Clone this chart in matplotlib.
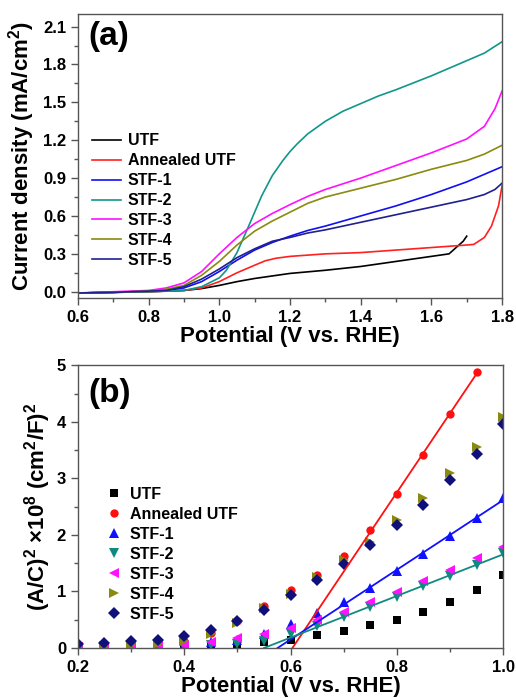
import numpy as np
import matplotlib
matplotlib.use("Agg")
import matplotlib.pyplot as plt
from matplotlib.ticker import MultipleLocator

# fonts semblants a Arial negreta
plt.rcParams['font.family'] = ['Liberation Sans', 'DejaVu Sans']
plt.rcParams['font.weight'] = 'bold'
plt.rcParams['mathtext.fontset'] = 'custom'
plt.rcParams['mathtext.rm'] = 'Liberation Sans:bold'
plt.rcParams['mathtext.bf'] = 'Liberation Sans:bold'
plt.rcParams['mathtext.default'] = 'rm'

# --- (a) LSV ---
labels = ['UTF', 'Annealed UTF', 'STF-1', 'STF-2', 'STF-3', 'STF-4', 'STF-5']
colors_a = ['black', '#ff2020', '#1010f0', '#10968a', '#ff10ff', '#8a8a10', '#202090']

x_utf = [0.6, 0.7, 0.8, 0.9, 0.95, 1.0, 1.05, 1.1, 1.15, 1.2, 1.3, 1.4, 1.5, 1.6, 1.65, 1.67, 1.69, 1.7]
j_utf = [-0.01, -0.005, 0.0, 0.01, 0.025, 0.05, 0.08, 0.105, 0.125, 0.145, 0.17, 0.2, 0.24, 0.28, 0.30, 0.35, 0.40, 0.44]

x_ann = [0.6, 0.7, 0.8, 0.9, 0.95, 1.0, 1.05, 1.1, 1.13, 1.16, 1.2, 1.3, 1.4, 1.5, 1.6, 1.7, 1.72, 1.75, 1.77, 1.79, 1.8]
j_ann = [-0.01, -0.005, 0.0, 0.01, 0.03, 0.08, 0.15, 0.21, 0.245, 0.265, 0.28, 0.30, 0.31, 0.33, 0.35, 0.37, 0.375, 0.43, 0.52, 0.68, 0.84]

x_s1 = [0.6, 0.7, 0.8, 0.85, 0.9, 0.95, 1.0, 1.05, 1.1, 1.15, 1.2, 1.25, 1.3, 1.4, 1.5, 1.6, 1.7, 1.8]
j_s1 = [-0.01, -0.005, 0.005, 0.01, 0.03, 0.08, 0.16, 0.25, 0.33, 0.39, 0.44, 0.485, 0.52, 0.60, 0.68, 0.77, 0.87, 0.99]

x_s2 = [0.6, 0.7, 0.8, 0.9, 0.95, 1.0, 1.02, 1.05, 1.08, 1.1, 1.12, 1.15, 1.18, 1.2, 1.22, 1.25, 1.28, 1.3, 1.35, 1.4, 1.45, 1.5, 1.6, 1.7, 1.75, 1.8]
j_s2 = [-0.01, -0.005, 0.0, 0.01, 0.04, 0.11, 0.17, 0.31, 0.50, 0.63, 0.76, 0.92, 1.04, 1.11, 1.17, 1.25, 1.31, 1.35, 1.43, 1.49, 1.55, 1.60, 1.71, 1.83, 1.89, 1.98]

x_s3 = [0.6, 0.7, 0.8, 0.85, 0.9, 0.95, 1.0, 1.05, 1.1, 1.15, 1.2, 1.25, 1.3, 1.4, 1.5, 1.6, 1.7, 1.75, 1.78, 1.8]
j_s3 = [-0.01, 0.0, 0.01, 0.03, 0.07, 0.16, 0.30, 0.43, 0.54, 0.62, 0.69, 0.755, 0.81, 0.90, 1.00, 1.10, 1.21, 1.31, 1.45, 1.59]

x_s4 = [0.6, 0.7, 0.8, 0.85, 0.9, 0.95, 1.0, 1.05, 1.1, 1.15, 1.2, 1.25, 1.3, 1.4, 1.5, 1.6, 1.7, 1.75, 1.8]
j_s4 = [-0.01, -0.005, 0.005, 0.02, 0.05, 0.13, 0.24, 0.37, 0.48, 0.56, 0.63, 0.70, 0.75, 0.82, 0.89, 0.97, 1.04, 1.09, 1.16]

x_s5 = [0.6, 0.7, 0.8, 0.85, 0.9, 0.95, 1.0, 1.05, 1.1, 1.15, 1.2, 1.25, 1.3, 1.4, 1.5, 1.6, 1.7, 1.75, 1.78, 1.8]
j_s5 = [-0.01, -0.005, 0.005, 0.01, 0.04, 0.10, 0.18, 0.27, 0.34, 0.40, 0.43, 0.465, 0.49, 0.55, 0.61, 0.67, 0.73, 0.77, 0.81, 0.86]

# --- (b) Mott-Schottky ---
v_ms = [0.2, 0.25, 0.3, 0.35, 0.4, 0.45, 0.5, 0.55, 0.6, 0.65, 0.7, 0.75, 0.8, 0.85, 0.9, 0.95, 1.0]
ms_utf = [0.0, 0.0, 0.01, 0.02, 0.03, 0.04, 0.07, 0.10, 0.15, 0.23, 0.30, 0.40, 0.50, 0.64, 0.82, 1.02, 1.30]
v_ann = v_ms[:-1]
ms_ann = [0.02, 0.02, 0.05, 0.08, 0.13, 0.27, 0.47, 0.74, 1.03, 1.29, 1.62, 2.09, 2.72, 3.42, 4.14, 4.88]
ms_s1 = [0.02, 0.02, 0.03, 0.04, 0.06, 0.10, 0.15, 0.25, 0.43, 0.62, 0.81, 1.06, 1.36, 1.67, 1.99, 2.30, 2.65]
ms_s2 = [0.01, 0.01, 0.02, 0.03, 0.04, 0.05, 0.08, 0.13, 0.25, 0.39, 0.55, 0.73, 0.91, 1.09, 1.28, 1.47, 1.68]
ms_s3 = [0.02, 0.02, 0.03, 0.05, 0.06, 0.11, 0.18, 0.25, 0.36, 0.49, 0.64, 0.81, 0.99, 1.19, 1.38, 1.59, 1.79]
ms_s4 = [0.03, 0.04, 0.06, 0.08, 0.13, 0.25, 0.45, 0.70, 0.95, 1.25, 1.55, 1.88, 2.27, 2.66, 3.09, 3.56, 4.08]
ms_s5 = [0.07, 0.09, 0.12, 0.15, 0.21, 0.31, 0.47, 0.68, 0.93, 1.21, 1.48, 1.82, 2.17, 2.53, 2.98, 3.44, 3.97]

markers_b = ['s', 'o', '^', 'v', '<', '>', 'D']
colors_b = ['black', '#ff1010', '#1010ff', '#108a80', '#ff10ff', '#8a8a10', '#10107a']

fig = plt.figure(figsize=(5.16, 6.98), dpi=100)
ax1 = fig.add_axes([0.151, 0.573, 0.822, 0.407])
ax2 = fig.add_axes([0.151, 0.0716, 0.824, 0.405])

series_a = [(x_utf, j_utf), (x_ann, j_ann), (x_s1, j_s1), (x_s2, j_s2),
            (x_s3, j_s3), (x_s4, j_s4), (x_s5, j_s5)]
for (xx, yy), lab, c in zip(series_a, labels, colors_a):
    ax1.plot(xx, yy, color=c, lw=1.2, label=lab)

ax1.set_xlim(0.6, 1.8)
ax1.set_ylim(-0.05, 2.2)
ax1.xaxis.set_major_locator(MultipleLocator(0.2))
ax1.xaxis.set_minor_locator(MultipleLocator(0.1))
ax1.yaxis.set_major_locator(MultipleLocator(0.3))
ax1.yaxis.set_minor_locator(MultipleLocator(0.15))
ax1.set_xlabel('Potential (V vs. RHE)', fontsize=16, fontweight='bold', labelpad=1)
ax1.set_ylabel('Current density (mA/cm$^2$)', fontsize=16, fontweight='bold', labelpad=4)
ax1.text(0.025, 0.975, '(a)', transform=ax1.transAxes, fontsize=24,
         fontweight='bold', va='top', ha='left')
ax1.legend(loc='upper left', bbox_to_anchor=(0.033, 0.58), frameon=False,
           fontsize=11.5, handlelength=1.8, handletextpad=0.45,
           labelspacing=0.31, borderaxespad=0, borderpad=0)

series_b = [(v_ms, ms_utf), (v_ann, ms_ann), (v_ms, ms_s1), (v_ms, ms_s2),
            (v_ms, ms_s3), (v_ms, ms_s4), (v_ms, ms_s5)]
for (xx, yy), lab, c, m in zip(series_b, labels, colors_b, markers_b):
    ms = 6 if m in ('s', 'o', 'D') else 7
    ax2.plot(xx, yy, ls='none', marker=m, color=c, ms=ms, mew=0, label=lab)

# rectes d'ajust lineal a la part lineal (x-intercept = potencial de banda plana)
fits = [(v_ann, ms_ann, 0.75, '#ff1010'),
        (v_ms, ms_s1, 0.70, '#1010ff'),
        (v_ms, ms_s2, 0.65, '#108a80')]
for xx, yy, xmin, c in fits:
    xx = np.array(xx)
    yy = np.array(yy)
    sel = xx >= xmin
    k, b = np.polyfit(xx[sel], yy[sel], 1)
    x0 = -b / k
    xl = np.array([x0, xx.max()])
    ax2.plot(xl, k * xl + b, color=c, lw=1.3)

ax2.set_xlim(0.2, 1.0)
ax2.set_ylim(0, 5)
ax2.xaxis.set_major_locator(MultipleLocator(0.2))
ax2.xaxis.set_minor_locator(MultipleLocator(0.1))
ax2.yaxis.set_major_locator(MultipleLocator(1))
ax2.yaxis.set_minor_locator(MultipleLocator(0.5))
ax2.set_xlabel('Potential (V vs. RHE)', fontsize=16, fontweight='bold', labelpad=1)
ax2.set_ylabel(r'(A/C)$^2$ $\times$10$^8$ (cm$^2$/F)$^2$', fontsize=16,
               fontweight='bold', labelpad=3)
ax2.text(0.025, 0.955, '(b)', transform=ax2.transAxes, fontsize=24,
         fontweight='bold', va='top', ha='left')
ax2.legend(loc='upper left', bbox_to_anchor=(0.065, 0.57), frameon=False,
           fontsize=11.5, handlelength=1.0, handletextpad=0.5, numpoints=1,
           labelspacing=0.31, borderaxespad=0, borderpad=0)

for ax in (ax1, ax2):
    for s in ax.spines.values():
        s.set_color('#555555')
        s.set_linewidth(1.0)
    ax.tick_params(which='both', direction='out', top=False, right=False,
                   color='#555555', labelsize=12)
    ax.tick_params(which='major', length=5, width=1)
    ax.tick_params(which='minor', length=3, width=1)
    for t in ax.get_xticklabels() + ax.get_yticklabels():
        t.set_fontweight('bold')

fig.savefig('out.png', dpi=100)
